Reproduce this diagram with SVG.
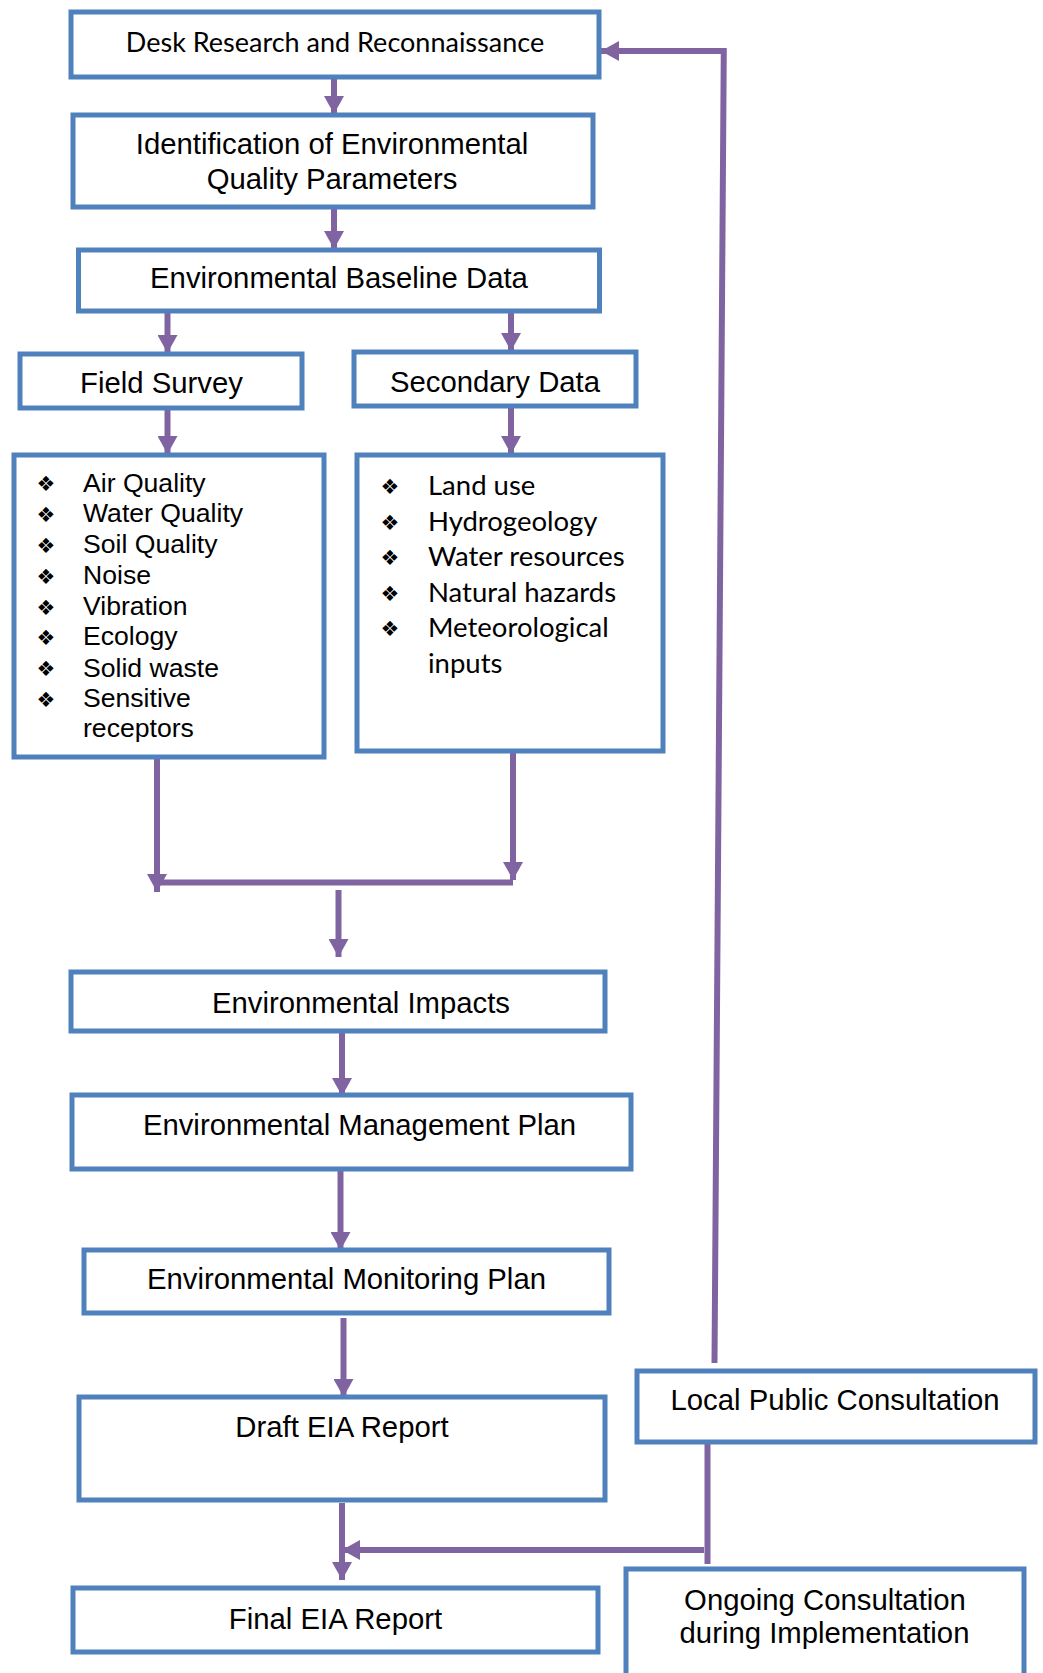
<svg xmlns="http://www.w3.org/2000/svg" width="1043" height="1673" viewBox="0 0 1043 1673">
<style>
.box{fill:#fff;stroke:#4F81BD;stroke-width:5}
.t{font-family:"Liberation Sans",Arial,sans-serif;font-size:29.3px;fill:#000;text-anchor:middle}
.c{font-family:Lato,"Liberation Sans",sans-serif;fill:#000}
.li{font-family:"Liberation Sans",Arial,sans-serif;font-size:26.6px;fill:#000}
.b{font-family:"DejaVu Sans",sans-serif;font-size:21px;fill:#000;text-anchor:middle}
.cn{fill:none;stroke:#8064A2;stroke-width:6}
</style>
<defs>
<marker id="ah" markerUnits="userSpaceOnUse" markerWidth="18" markerHeight="20" refX="18" refY="10" orient="auto">
<path d="M0,0 L18,10 L0,20 z" fill="#8064A2"/>
</marker>
</defs>
<rect width="1043" height="1673" fill="#fff"/>
<g id="connectors">
<line class="cn" x1="334" y1="79" x2="334" y2="114" marker-end="url(#ah)"/>
<line class="cn" x1="334" y1="209" x2="334" y2="249" marker-end="url(#ah)"/>
<line class="cn" x1="167.5" y1="313" x2="167.5" y2="353" marker-end="url(#ah)"/>
<line class="cn" x1="511" y1="313" x2="511" y2="351" marker-end="url(#ah)"/>
<line class="cn" x1="167.5" y1="410" x2="167.5" y2="454" marker-end="url(#ah)"/>
<line class="cn" x1="511" y1="408" x2="511" y2="454" marker-end="url(#ah)"/>
<line class="cn" x1="157" y1="759" x2="157" y2="892" marker-end="url(#ah)"/>
<line class="cn" x1="513" y1="753" x2="513" y2="880" marker-end="url(#ah)"/>
<line class="cn" x1="157" y1="882.5" x2="513" y2="882.5"/>
<line class="cn" x1="338.5" y1="890" x2="338.5" y2="957" marker-end="url(#ah)"/>
<line class="cn" x1="342" y1="1033" x2="342" y2="1096" marker-end="url(#ah)"/>
<line class="cn" x1="340.5" y1="1171" x2="340.5" y2="1250" marker-end="url(#ah)"/>
<line class="cn" x1="343.5" y1="1318" x2="343.5" y2="1397" marker-end="url(#ah)"/>
<line class="cn" x1="342" y1="1503" x2="342" y2="1580" marker-end="url(#ah)"/>
<path class="cn" d="M714.5,1363 L723.8,48 M726.5,51 L601,51" marker-end="url(#ah)"/>
<path class="cn" d="M707.5,1444 L707.5,1564 M704,1550 L342,1550" marker-end="url(#ah)"/>
</g>
<g id="desk">
<rect class="box" x="71" y="12" width="528" height="65"/>
<text class="c" x="335" y="52" font-size="27" text-anchor="middle">Desk Research and Reconnaissance</text>
</g>
<g id="ident">
<rect class="box" x="73" y="115" width="520" height="92"/>
<text class="t" x="332" y="154">Identification of Environmental</text>
<text class="t" x="332" y="189">Quality Parameters</text>
</g>
<g id="baseline">
<rect class="box" x="78.5" y="250" width="521" height="61"/>
<text class="t" x="339" y="287.5">Environmental Baseline Data</text>
</g>
<g id="field-survey">
<rect class="box" x="20" y="354" width="282" height="54"/>
<text class="t" x="161.5" y="393.3">Field Survey</text>
</g>
<g id="secondary-data">
<rect class="box" x="354" y="352" width="282" height="54"/>
<text class="t" x="495" y="391.7">Secondary Data</text>
</g>
<g id="field-list">
<rect class="box" x="14" y="455" width="310" height="302"/>
<g class="b">
<text x="46" y="491">❖</text><text x="46" y="521.5">❖</text><text x="46" y="552.5">❖</text><text x="46" y="583.5">❖</text><text x="46" y="614.5">❖</text><text x="46" y="645">❖</text><text x="46" y="676">❖</text><text x="46" y="706.5">❖</text>
</g>
<text class="li" x="83" y="491.7">Air Quality</text>
<text class="li" x="83" y="521.7">Water Quality</text>
<text class="li" x="83" y="552.7">Soil Quality</text>
<text class="li" x="83" y="584">Noise</text>
<text class="li" x="83" y="615">Vibration</text>
<text class="li" x="83" y="645">Ecology</text>
<text class="li" x="83" y="676.7">Solid waste</text>
<text class="li" x="83" y="706.7">Sensitive</text>
<text class="li" x="83" y="736.7">receptors</text>
</g>
<g id="secondary-list">
<rect class="box" x="357" y="455" width="306" height="296"/>
<g class="b">
<text x="390" y="494">❖</text><text x="390" y="529.5">❖</text><text x="390" y="565">❖</text><text x="390" y="600.5">❖</text><text x="390" y="636">❖</text>
</g>
<g class="c" font-size="27.5">
<text x="428" y="495">Land use</text>
<text x="428" y="530.5">Hydrogeology</text>
<text x="428" y="566">Water resources</text>
<text x="428" y="601.7">Natural hazards</text>
<text x="428" y="637.3">Meteorological</text>
<text x="428" y="673.3">inputs</text>
</g>
</g>
<g id="impacts">
<rect class="box" x="71" y="972" width="534" height="59"/>
<text class="t" x="361" y="1013.3">Environmental Impacts</text>
</g>
<g id="emp">
<rect class="box" x="72" y="1095" width="559" height="74"/>
<text class="t" x="359.5" y="1135">Environmental Management Plan</text>
</g>
<g id="emonp">
<rect class="box" x="84" y="1250" width="525" height="63"/>
<text class="t" x="346.5" y="1289.3">Environmental Monitoring Plan</text>
</g>
<g id="draft">
<rect class="box" x="79" y="1397" width="526" height="103"/>
<text class="t" x="342" y="1436.7">Draft EIA Report</text>
</g>
<g id="final">
<rect class="box" x="73" y="1588" width="525" height="64"/>
<text class="t" x="335.5" y="1629.3">Final EIA Report</text>
</g>
<g id="local">
<rect class="box" x="637" y="1371" width="398" height="71"/>
<text class="t" x="835" y="1410">Local Public Consultation</text>
</g>
<g id="ongoing">
<rect class="box" x="626" y="1569" width="398" height="130"/>
<text class="t" x="825" y="1610">Ongoing Consultation</text>
<text class="t" x="824.5" y="1643.3">during Implementation</text>
</g>
</svg>
